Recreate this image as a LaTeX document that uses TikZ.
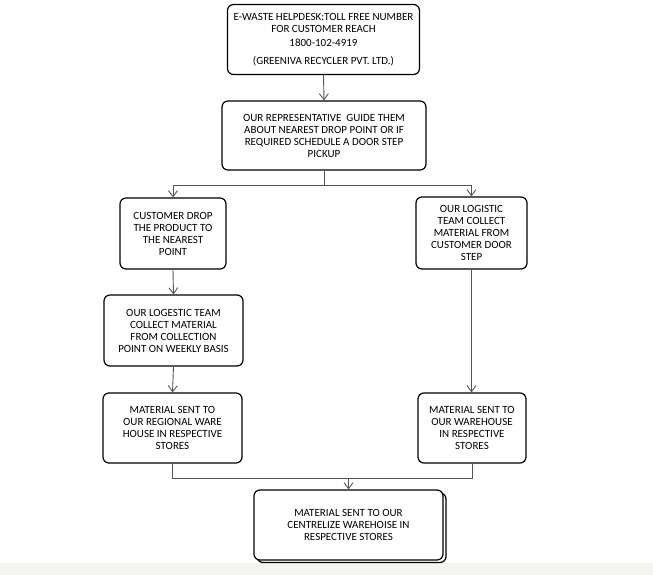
\documentclass[tikz,border=0pt]{standalone}
\usepackage{fontspec}
\setmainfont{Carlito}
\usetikzlibrary{arrows.meta}
\definecolor{stripgray}{HTML}{F4F5F1}
\definecolor{conngray}{HTML}{555555}
\tikzset{
  box/.style={draw=black, line width=1.2pt, rounded corners=6pt, fill=white,
    align=center, inner sep=1pt, font=\fontsize{11pt}{12pt}\selectfont},
  conn/.style={draw=conngray, line width=0.9pt},
  arr/.style={conn, -{Straight Barb[length=6pt,width=9pt,line width=0.9pt]}},
}
\begin{document}
\begin{tikzpicture}[x=1pt,y=-1pt]
\fill[white] (0,0) rectangle (653,563);
\fill[stripgray] (0,563) rectangle (653,575);
\useasboundingbox (0,0) rectangle (653,575);

\node[box, minimum width=192pt, minimum height=70pt] (b1) at (323.5,39.5)
  {E-WASTE HELPDESK:TOLL FREE NUMBER\\FOR CUSTOMER REACH\\[2pt]1800-102-4919\\[6pt](GREENIVA RECYCLER PVT. LTD.)};
\node[box, minimum width=204pt, minimum height=69pt] (b2) at (324,135.5)
  {OUR REPRESENTATIVE\ \ GUIDE THEM\\ABOUT NEAREST DROP POINT OR IF\\REQUIRED SCHEDULE A DOOR STEP\\PICKUP};
\node[box, minimum width=106pt, minimum height=71pt] (l1) at (173,233.5)
  {CUSTOMER DROP\\THE PRODUCT TO\\THE NEAREST\\POINT};
\node[box, minimum width=111pt, minimum height=72pt] (r1) at (471.5,233)
  {OUR LOGISTIC\\TEAM COLLECT\\MATERIAL FROM\\CUSTOMER DOOR\\STEP};
\node[box, minimum width=139pt, minimum height=71pt] (l2) at (173.5,330.5)
  {OUR LOGESTIC TEAM\\COLLECT MATERIAL\\FROM COLLECTION\\POINT ON WEEKLY BASIS};
\node[box, minimum width=139pt, minimum height=70pt] (l3) at (172.5,428)
  {MATERIAL SENT TO\\OUR REGIONAL WARE\\HOUSE IN RESPECTIVE\\STORES};
\node[box, minimum width=108pt, minimum height=70pt] (r3) at (472,428)
  {MATERIAL SENT TO\\OUR WAREHOUSE\\IN RESPECTIVE\\STORES};
\draw[black, line width=1.2pt, rounded corners=6pt] (257,493) rectangle (446,562.5);
\node[box, minimum width=189pt, minimum height=70pt] (b3) at (348.5,525)
  {MATERIAL SENT TO OUR\\CENTRELIZE WAREHOISE IN\\RESPECTIVE STORES};

\draw[arr] (b1.south) -- (b2.north);
\coordinate (split) at (324,185);
\draw[conn] (b2.south) -- (split);
\draw[arr] (split) -| (l1.north);
\draw[arr] (split) -| (r1.north);
\draw[arr] (l1.south) -- (l2.north);
\draw[arr] (l2.south) -- (l3.north);
\draw[arr] (r1.south) -- (r1.south |- r3.north);
\coordinate (merge) at (348.5,478);
\draw[conn] (l3.south) |- (merge);
\draw[conn] (r3.south) |- (merge);
\draw[arr] (merge) -- (b3.north);
\end{tikzpicture}
\end{document}
